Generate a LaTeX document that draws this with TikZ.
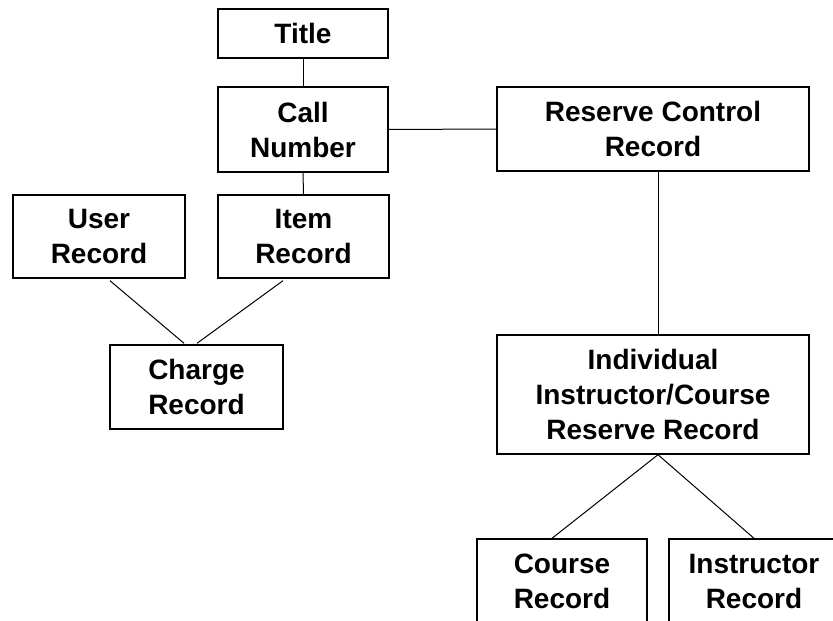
\documentclass[tikz,border=0pt]{standalone}
\usepackage{fontspec}
\setmainfont{Liberation Sans}
\usetikzlibrary{calc}
\tikzset{
  rec/.style={draw=black, line width=1.4pt, fill=white, inner sep=0pt, align=center,
    font=\bfseries\fontsize{28}{35}\selectfont},
  conn/.style={draw=black, line width=1pt}
}
\begin{document}
\begin{tikzpicture}[x=1pt,y=-1pt]
\fill[white] (0,0) rectangle (833,621);
\clip (0,0) rectangle (833,621);
\node[rec, minimum width=170, minimum height=49] (title) at (303,33.5) {Title};
\node[rec, minimum width=170, minimum height=85] (call) at (303,129.5) {Call\\Number};
\node[rec, minimum width=312, minimum height=84] (rcr) at (653,129) {Reserve Control\\Record};
\node[rec, minimum width=172, minimum height=83] (user) at (99,236.5) {User\\Record};
\node[rec, minimum width=171, minimum height=83] (item) at (303.5,236.5) {Item\\Record};
\node[rec, minimum width=173, minimum height=84] (charge) at (196.5,387) {Charge\\Record};
\node[rec, minimum width=312, minimum height=119] (indiv) at (653,394.5) {Individual\\Instructor/Course\\Reserve Record};
\node[rec, minimum width=170, minimum height=84] (course) at (562,581) {Course\\Record};
\node[rec, minimum width=170, minimum height=84] (instr) at (754,581) {Instructor\\Record};
\draw[conn] (title.south) -- (call.north);
\draw[conn] (call.south) -- (item.north);
\draw[conn] (call.east) -- (rcr.west);
\draw[conn] ($(rcr.south)+(5,0)$) -- ($(indiv.north)+(5,0)$);
\draw[conn] ($(user.south)+(11,2)$) -- ($(charge.north)+(-12.5,-1)$);
\draw[conn] ($(item.south)+(-20.5,2)$) -- ($(charge.north)+(0.5,-1)$);
\draw[conn] ($(indiv.south)+(5,0)$) -- ($(course.north)+(-10,0)$);
\draw[conn] ($(indiv.south)+(5,0)$) -- (instr.north);
\end{tikzpicture}
\end{document}
